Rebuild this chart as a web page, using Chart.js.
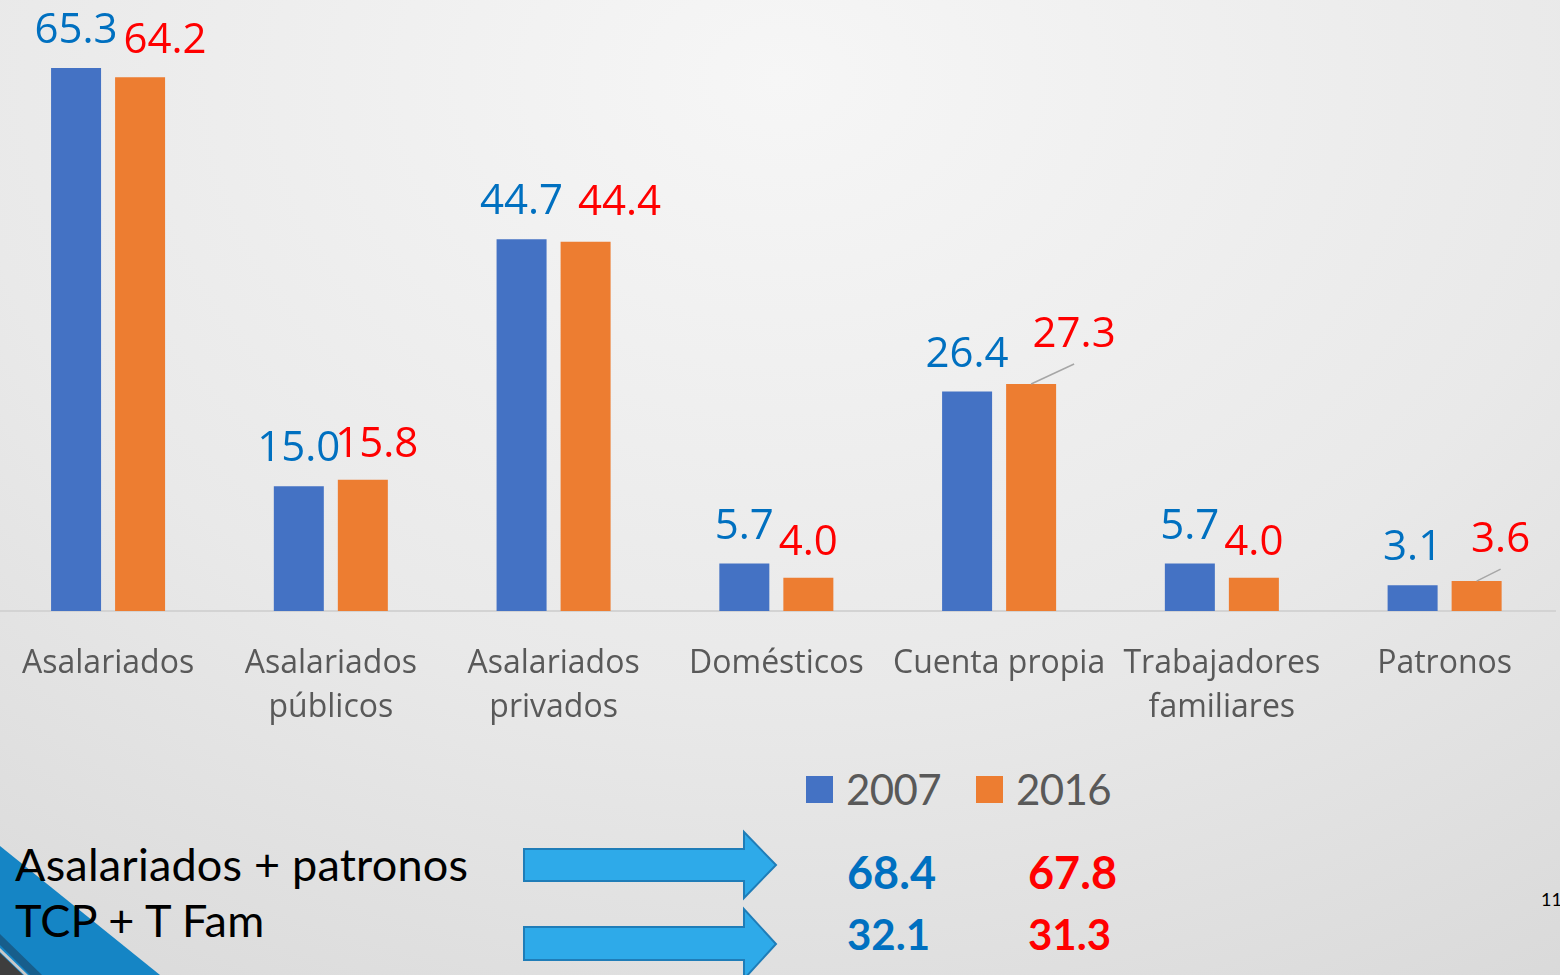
<!DOCTYPE html>
<html>
<head>
<meta charset="utf-8">
<script src="https://cdn.jsdelivr.net/npm/chart.js@4.4.1/dist/chart.umd.min.js"></script>
<style>
html, body { margin: 0; padding: 0; width: 1560px; height: 975px; overflow: hidden; }
body { position: relative; background: radial-gradient(ellipse 95% 115% at 50% 8%, #F6F6F6 0%, #E9E9E9 55%, #D8D8D8 100%); }
#deco { position: absolute; left: 0; top: 0; }
#wrap { position: absolute; left: -8px; top: 0; width: 1564px; height: 740px; }
.lbl { font-family: Lato, sans-serif; }
.num { font-family: Lato, sans-serif; font-weight: 700; }
</style>
</head>
<body>
<svg id="deco" width="1560" height="975" xmlns="http://www.w3.org/2000/svg">
  <polygon points="0,846 160,975 0,975" fill="#1585C5"/>
  <polygon points="0,934 42,975 30,975 0,945" fill="#175E8C"/>
  <polygon points="0,948 28,975 24,975 0,952" fill="#C9C9C9"/>
  <polygon points="0,953 23,975 0,975" fill="#3E3E3E"/>
  <g id="bottomText"></g>
  <g id="legendG"></g>
</svg>
<div id="wrap"><canvas id="c" width="1564" height="740"></canvas></div>
<script>
// ---- data ----
const categories = [['Asalariados'], ['Asalariados', 'públicos'], ['Asalariados', 'privados'], ['Domésticos'], ['Cuenta propia'], ['Trabajadores', 'familiares'], ['Patronos']];
const seriesNames = ['2007', '2016'];
const values2007 = [65.3, 15.0, 44.7, 5.7, 26.4, 5.7, 3.1];
const values2016 = [64.2, 15.8, 44.4, 4.0, 27.3, 4.0, 3.6];
const summaryLabels = ['Asalariados + patronos', 'TCP + T Fam'];
const summary2007 = [68.4, 32.1];
const summary2016 = [67.8, 31.3];
const pageNumber = '11';

// ---- styles ----
const barColors = ['#4472C4', '#ED7D31'];
const labelColors = ['#0070C0', '#FF0000'];
const labelFont = '42px "Open Sans"';
const labelGap = [[25, 25, 25, 25, 25, 25, 25], [24, 23, 27, 23, 37, 23, 29]];
const labelDx = [[0, 0, 0, 0, 0, 0, 0], [25, 14, 34, 0, 43, 0, 24]];
const leaderLines = [[], [4, 6]];

const dataLabelPlugin = {
  id: 'dataLabels',
  afterDatasetsDraw(chart) {
    const ctx = chart.ctx;
    ctx.save();
    ctx.font = labelFont;
    ctx.textAlign = 'center';
    ctx.textBaseline = 'alphabetic';
    chart.data.datasets.forEach((ds, di) => {
      const meta = chart.getDatasetMeta(di);
      meta.data.forEach((bar, i) => {
        const x = bar.x + labelDx[di][i];
        const y = bar.y - labelGap[di][i];
        if (leaderLines[di].includes(i)) {
          ctx.strokeStyle = '#A6A6A6';
          ctx.lineWidth = 1.5;
          ctx.beginPath();
          ctx.moveTo(bar.x, bar.y);
          ctx.lineTo(x, y + 17);
          ctx.stroke();
        }
        ctx.fillStyle = labelColors[di];
        ctx.fillText(ds.data[i].toFixed(1), x, y);
      });
    });
    ctx.restore();
  }
};

const chart = new Chart(document.getElementById('c'), {
  type: 'bar',
  data: {
    labels: categories,
    datasets: [
      { label: seriesNames[0], data: values2007, backgroundColor: barColors[0] },
      { label: seriesNames[1], data: values2016, backgroundColor: barColors[1] }
    ]
  },
  options: {
    responsive: false,
    devicePixelRatio: 1,
    animation: false,
    categoryPercentage: 0.5748,
    barPercentage: 0.781,
    layout: { padding: { top: 29, left: 0, right: 0, bottom: 0 } },
    plugins: { legend: { display: false }, tooltip: { enabled: false } },
    scales: {
      x: {
        grid: { display: false, drawTicks: false, tickLength: 0 },
        border: { display: true, color: '#D3D3D3', width: 2 },
        ticks: { color: '#595959', font: { family: '"Open Sans"', size: 32, lineHeight: 1.4 }, padding: 30, maxRotation: 0, autoSkip: false },
        afterFit(scale) { scale.height = 129; }
      },
      y: { display: false, min: 0, max: 70 }
    }
  },
  plugins: [dataLabelPlugin]
});

// ---- legend built from the chart's datasets ----
const NS = 'http://www.w3.org/2000/svg';
const legendG = document.getElementById('legendG');
const legendX = [806, 976];
chart.data.datasets.forEach((ds, i) => {
  const r = document.createElementNS(NS, 'rect');
  r.setAttribute('x', legendX[i]); r.setAttribute('y', 776);
  r.setAttribute('width', 27); r.setAttribute('height', 27);
  r.setAttribute('fill', ds.backgroundColor);
  legendG.appendChild(r);
  const t = document.createElementNS(NS, 'text');
  t.setAttribute('x', legendX[i] + 40); t.setAttribute('y', 805);
  t.setAttribute('class', 'lbl');
  t.setAttribute('font-size', '42'); t.setAttribute('letter-spacing', '-0.6');
  t.setAttribute('fill', '#595959');
  t.textContent = ds.label;
  legendG.appendChild(t);
});

// ---- bottom summary with arrows ----
const bt = document.getElementById('bottomText');
const rowBase = [881, 937];
const arrowY = [[849, 881, 832, 898, 865], [927, 960, 909, 979, 944]];
summaryLabels.forEach((s, i) => {
  const t = document.createElementNS(NS, 'text');
  t.setAttribute('x', 15); t.setAttribute('y', rowBase[i]);
  t.setAttribute('class', 'lbl'); t.setAttribute('font-size', '45'); t.setAttribute('letter-spacing', '0.2'); t.setAttribute('fill', '#000');
  t.textContent = s;
  bt.appendChild(t);
  const a = arrowY[i];
  const p = document.createElementNS(NS, 'polygon');
  p.setAttribute('points', `524,${a[0]} 744,${a[0]} 744,${a[2]} 776,${a[4]} 744,${a[3]} 744,${a[1]} 524,${a[1]}`);
  p.setAttribute('fill', '#2EAAE9'); p.setAttribute('stroke', '#1F7DB8'); p.setAttribute('stroke-width', '2');
  bt.appendChild(p);
  const n1 = document.createElementNS(NS, 'text');
  n1.setAttribute('x', 847); n1.setAttribute('y', [889, 950][i]);
  n1.setAttribute('class', 'num'); n1.setAttribute('font-size', ['45', '42'][i]); n1.setAttribute('fill', '#0070C0');
  n1.textContent = summary2007[i].toFixed(1);
  bt.appendChild(n1);
  const n2 = document.createElementNS(NS, 'text');
  n2.setAttribute('x', 1028); n2.setAttribute('y', [889, 950][i]);
  n2.setAttribute('class', 'num'); n2.setAttribute('font-size', ['45', '42'][i]); n2.setAttribute('fill', '#FF0000');
  n2.textContent = summary2016[i].toFixed(1);
  bt.appendChild(n2);
});
const pn = document.createElementNS(NS, 'text');
pn.setAttribute('x', 1541); pn.setAttribute('y', 906);
pn.setAttribute('font-family', 'Lato, sans-serif'); pn.setAttribute('font-size', '18'); pn.setAttribute('fill', '#000');
pn.textContent = pageNumber;
bt.appendChild(pn);
</script>
</body>
</html>
